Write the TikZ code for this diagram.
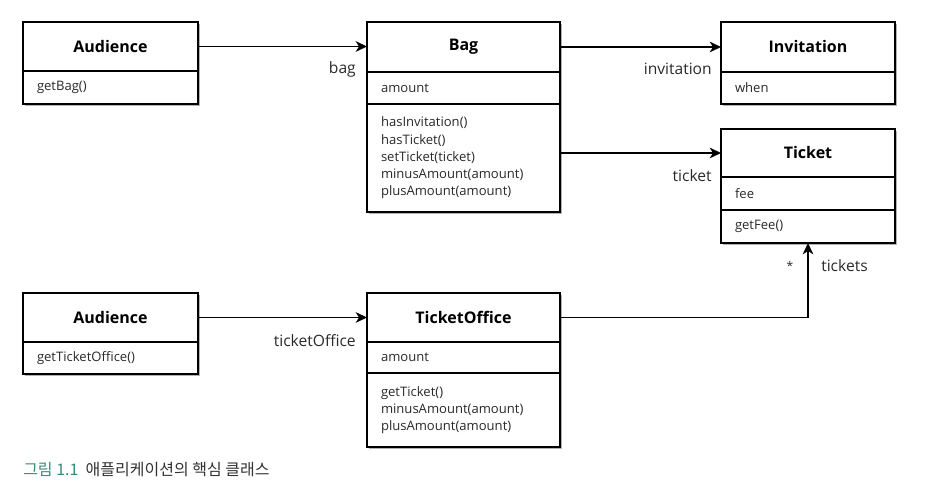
\documentclass[tikz,border=0pt]{standalone}
\usepackage{fontspec}
\setmainfont{Open Sans}
\newfontfamily\krfont{Noto Sans CJK KR}
\usetikzlibrary{arrows.meta}
\pgfdeclarelayer{background}
\pgfsetlayers{background,main}
\definecolor{figlabel}{HTML}{3A8A78}
\definecolor{captext}{HTML}{333333}
\definecolor{membertext}{HTML}{2A2A2A}

\tikzset{
  box/.style={draw=black, fill=white, line width=0.9pt, outer sep=0pt, anchor=north west},
  classname/.style={box, inner sep=0pt, font=\bfseries\fontsize{12}{14}\selectfont},
  members/.style={box, align=left, inner xsep=10.5pt, inner ysep=0pt,
    text=membertext, font=\fontsize{9.8}{12.9}\selectfont},
  assoc/.style={line width=1.1pt, -{Stealth[length=8.5pt,width=8pt,inset=2.5pt]}},
  rolename/.style={inner sep=0pt, font=\fontsize{11.7}{14}\selectfont, text=membertext},
  classshadow/.style={fill=black, opacity=0.3},
}

\begin{document}
\begin{tikzpicture}[x=0.75pt, y=-0.75pt]
\useasboundingbox (0,0) rectangle (932,498);

% Audience (bag)
\node[classname, minimum width=131.25pt, minimum height=36.75pt] (aud1T) at (23,22) {Audience};
\node[members, text width=110.25pt, minimum height=24.75pt] (aud1M) at (aud1T.south west) {getBag()};

% Bag
\node[classname, minimum width=144.75pt, minimum height=37.5pt] (bagT) at (367,22) {Bag};
\node[members, text width=123.75pt, minimum height=24pt] (bagA) at (bagT.south west) {amount};
\node[members, text width=123.75pt, minimum height=81pt] (bagM) at (bagA.south west)
  {hasInvitation()\\hasTicket()\\setTicket(ticket)\\minusAmount(amount)\\plusAmount(amount)};

% Invitation
\node[classname, minimum width=130.5pt, minimum height=37.5pt] (invT) at (721,22) {Invitation};
\node[members, text width=109.5pt, minimum height=24pt] (invA) at (invT.south west) {when};

% Ticket
\node[classname, minimum width=130.5pt, minimum height=36pt] (tkT) at (721,129) {Ticket};
\node[members, text width=109.5pt, minimum height=24.75pt] (tkA) at (tkT.south west) {fee};
\node[members, text width=109.5pt, minimum height=24.75pt] (tkM) at (tkA.south west) {getFee()};

% Audience (ticket office)
\node[classname, minimum width=131.25pt, minimum height=36.75pt] (aud2T) at (23,293) {Audience};
\node[members, text width=110.25pt, minimum height=24pt] (aud2M) at (aud2T.south west) {getTicketOffice()};

% TicketOffice
\node[classname, minimum width=144.75pt, minimum height=36.75pt] (toT) at (367,293) {TicketOffice};
\node[members, text width=123.75pt, minimum height=23.25pt] (toA) at (toT.south west) {amount};
\node[members, text width=123.75pt, minimum height=55.5pt] (toM) at (toA.south west)
  {getTicket()\\minusAmount(amount)\\plusAmount(amount)};

% One soft shadow behind each whole class box
\begin{pgfonlayer}{background}
  \foreach \top/\bot in {aud1T/aud1M, bagT/bagM, invT/invA, tkT/tkM, aud2T/aud2M, toT/toM} {
    \fill[classshadow] ([xshift=1.5pt,yshift=-1.5pt]\top.north west)
      rectangle ([xshift=1.5pt,yshift=-1.5pt]\bot.south east);
  }
\end{pgfonlayer}

% Associations
\draw[assoc] (aud1T.east) -- (aud1T.east -| bagT.west);
\draw[assoc] (bagT.east) -- (bagT.east -| invT.west);
\draw[assoc] (tkT.west -| bagM.east) -- (tkT.west);
\draw[assoc] (aud2T.east) -- (aud2T.east -| toT.west);
\draw[assoc] (toT.east) -| (tkM.south);

% Role names
\node[rolename, anchor=east] (rbag) at (356,69) {bag};
\node[rolename, anchor=east] (rinv) at (712,69) {invitation};
\node[rolename, anchor=east] (rtk) at (712,176) {ticket};
\node[rolename, anchor=east] (rto) at (356,341) {ticketOffice};
\node[rolename, font=\fontsize{9}{10}\selectfont] (mult) at (790,266) {*};
\node[rolename, anchor=west] (rtks) at (821,266) {tickets};

% Caption
\node[anchor=west, inner sep=0pt, font=\krfont\fontsize{12}{14}\selectfont] (cap) at (23,470)
  {\textcolor{figlabel}{그림 1.1}\hspace{0.45em}\textcolor{captext}{애플리케이션의 핵심 클래스}};
\end{tikzpicture}
\end{document}
